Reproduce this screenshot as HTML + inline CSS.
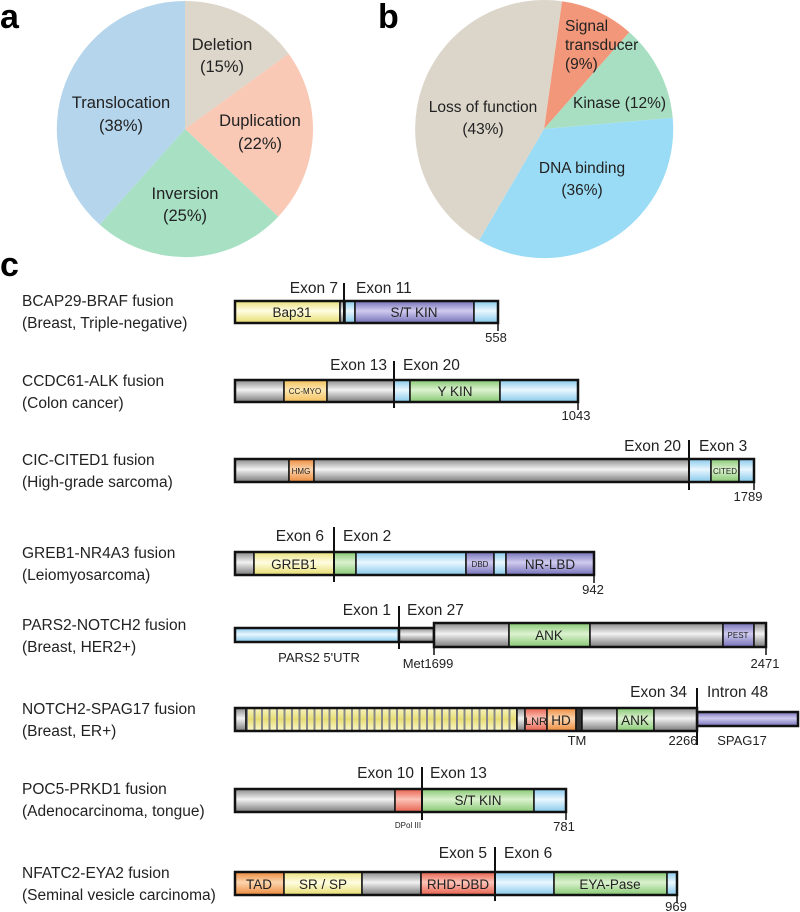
<!DOCTYPE html>
<html><head><meta charset="utf-8"><style>
html,body{margin:0;padding:0;background:#fff}
svg{display:block;font-family:"Liberation Sans",Arial,sans-serif}
</style></head><body>
<svg width="800" height="912" viewBox="0 0 800 912" xmlns="http://www.w3.org/2000/svg">
<defs>
<linearGradient id="gG" x1="0" y1="0" x2="0" y2="1"><stop offset="0" stop-color="#8a8a8a"/><stop offset=".45" stop-color="#f2f2f2"/><stop offset="1" stop-color="#7a7a7a"/></linearGradient>
<linearGradient id="gY" x1="0" y1="0" x2="0" y2="1"><stop offset="0" stop-color="#e9e07a"/><stop offset=".45" stop-color="#fffde2"/><stop offset="1" stop-color="#e6dc6e"/></linearGradient>
<linearGradient id="gB" x1="0" y1="0" x2="0" y2="1"><stop offset="0" stop-color="#86c8ea"/><stop offset=".45" stop-color="#eaf7ff"/><stop offset="1" stop-color="#86c8ea"/></linearGradient>
<linearGradient id="gP" x1="0" y1="0" x2="0" y2="1"><stop offset="0" stop-color="#7570b8"/><stop offset=".45" stop-color="#cfcbef"/><stop offset="1" stop-color="#7570b8"/></linearGradient>
<linearGradient id="gN" x1="0" y1="0" x2="0" y2="1"><stop offset="0" stop-color="#86c872"/><stop offset=".45" stop-color="#dcf2d0"/><stop offset="1" stop-color="#86c872"/></linearGradient>
<linearGradient id="gO" x1="0" y1="0" x2="0" y2="1"><stop offset="0" stop-color="#ec8a3c"/><stop offset=".45" stop-color="#fcd5ae"/><stop offset="1" stop-color="#ec8a3c"/></linearGradient>
<linearGradient id="gR" x1="0" y1="0" x2="0" y2="1"><stop offset="0" stop-color="#e8604e"/><stop offset=".45" stop-color="#fcc4b8"/><stop offset="1" stop-color="#e8604e"/></linearGradient>
<linearGradient id="gC" x1="0" y1="0" x2="0" y2="1"><stop offset="0" stop-color="#f3bf5a"/><stop offset=".45" stop-color="#fde8b4"/><stop offset="1" stop-color="#f3bf5a"/></linearGradient>
<pattern id="stripe" x="246" y="0" width="7.5" height="30" patternUnits="userSpaceOnUse"><rect width="7.5" height="30" fill="url(#gY)"/><rect x="0" width="2" height="30" fill="#888"/></pattern>
</defs>

<text x="0" y="28" font-size="34" font-weight="bold">a</text>
<text x="378" y="28" font-size="34" font-weight="bold">b</text>
<text x="0" y="276" font-size="34" font-weight="bold">c</text>

<g>
<path d="M185,129 L185,1 A128,128 0 0 1 288.6,53.8 Z" fill="#ddd6ca"/>
<path d="M185,129 L288.6,53.8 A128,128 0 0 1 278.3,216.6 Z" fill="#f9c9b6"/>
<path d="M185,129 L278.3,216.6 A128,128 0 0 1 99.7,224.6 Z" fill="#a8e0c4"/>
<path d="M185,129 L99.7,224.6 A128,128 0 0 1 185,1 Z" fill="#b4d5ec"/>
<g font-size="16.5" fill="#222" text-anchor="middle">
<text x="222" y="50">Deletion</text><text x="222" y="72">(15%)</text>
<text x="260" y="126">Duplication</text><text x="260" y="149">(22%)</text>
<text x="185" y="199">Inversion</text><text x="185" y="221">(25%)</text>
<text x="121" y="108">Translocation</text><text x="121" y="131">(38%)</text>
</g>
</g>

<g>
<path d="M544,129 L562,1.3 A129,129 0 0 1 629.3,32.2 Z" fill="#f2977a"/>
<path d="M544,129 L629.3,32.2 A129,129 0 0 1 672.7,117.8 Z" fill="#a8dfc2"/>
<path d="M544,129 L672.7,117.8 A129,129 0 0 1 479,240.4 Z" fill="#9adcf6"/>
<path d="M544,129 L479,240.4 A129,129 0 0 1 562,1.3 Z" fill="#dcd6ca"/>
<g font-size="15.5" fill="#222">
<text x="565" y="31">Signal</text><text x="565" y="50">transducer</text><text x="565" y="69">(9%)</text>
<text x="573" y="108">Kinase (12%)</text>
<text x="483" y="112" text-anchor="middle">Loss of function</text><text x="483" y="134" text-anchor="middle">(43%)</text>
<text x="582" y="173" text-anchor="middle">DNA binding</text><text x="582" y="195" text-anchor="middle">(36%)</text>
</g>
</g>

<g font-size="15.5" fill="#222">
<text x="22" y="306">BCAP29-BRAF fusion</text><text x="22" y="328">(Breast, Triple-negative)</text>
<text x="22" y="386">CCDC61-ALK fusion</text><text x="22" y="408">(Colon cancer)</text>
<text x="22" y="465">CIC-CITED1 fusion</text><text x="22" y="487">(High-grade sarcoma)</text>
<text x="22" y="558">GREB1-NR4A3 fusion</text><text x="22" y="580">(Leiomyosarcoma)</text>
<text x="22" y="630">PARS2-NOTCH2 fusion</text><text x="22" y="652">(Breast, HER2+)</text>
<text x="22" y="714">NOTCH2-SPAG17 fusion</text><text x="22" y="736">(Breast, ER+)</text>
<text x="22" y="794">POC5-PRKD1 fusion</text><text x="22" y="816">(Adenocarcinoma, tongue)</text>
<text x="22" y="878">NFATC2-EYA2 fusion</text><text x="22" y="900">(Seminal vesicle carcinoma)</text>
</g>

<g stroke="#111" stroke-width="1.5">
<rect x="235" y="301" width="105" height="22" fill="url(#gY)"/>
<rect x="340" y="301" width="5" height="22" fill="url(#gG)"/>
<rect x="345" y="301" width="10" height="22" fill="url(#gB)"/>
<rect x="355" y="301" width="119" height="22" fill="url(#gP)"/>
<rect x="474" y="301" width="24" height="22" fill="url(#gB)"/>
<rect x="235" y="301" width="263" height="22" fill="none" stroke-width="2.5"/>
<line x1="344" y1="283" x2="344" y2="323" stroke-width="2"/>
<line x1="498" y1="323" x2="498" y2="331"/>

<rect x="235" y="380" width="49" height="22" fill="url(#gG)"/>
<rect x="284" y="380" width="43" height="22" fill="url(#gC)"/>
<rect x="327" y="380" width="67" height="22" fill="url(#gG)"/>
<rect x="394" y="380" width="16" height="22" fill="url(#gB)"/>
<rect x="410" y="380" width="90" height="22" fill="url(#gN)"/>
<rect x="500" y="380" width="78" height="22" fill="url(#gB)"/>
<rect x="235" y="380" width="343" height="22" fill="none" stroke-width="2.5"/>
<line x1="394" y1="361" x2="394" y2="408" stroke-width="2"/>
<line x1="578" y1="402" x2="578" y2="410"/>

<rect x="235" y="459" width="54" height="23" fill="url(#gG)"/>
<rect x="289" y="459" width="25" height="23" fill="url(#gO)"/>
<rect x="314" y="459" width="375" height="23" fill="url(#gG)"/>
<rect x="689" y="459" width="22" height="23" fill="url(#gB)"/>
<rect x="711" y="459" width="28" height="23" fill="url(#gN)"/>
<rect x="739" y="459" width="15" height="23" fill="url(#gB)"/>
<rect x="235" y="459" width="519" height="23" fill="none" stroke-width="2.5"/>
<line x1="689" y1="440" x2="689" y2="490" stroke-width="2"/>
<line x1="754" y1="482" x2="754" y2="490"/>

<rect x="235" y="552" width="19" height="23" fill="url(#gG)"/>
<rect x="254" y="552" width="80" height="23" fill="url(#gY)"/>
<rect x="334" y="552" width="22" height="23" fill="url(#gN)"/>
<rect x="356" y="552" width="110" height="23" fill="url(#gB)"/>
<rect x="466" y="552" width="28" height="23" fill="url(#gP)"/>
<rect x="494" y="552" width="12" height="23" fill="url(#gB)"/>
<rect x="506" y="552" width="88" height="23" fill="url(#gP)"/>
<rect x="235" y="552" width="359" height="23" fill="none" stroke-width="2.5"/>
<line x1="334" y1="527" x2="334" y2="582" stroke-width="2"/>
<line x1="594" y1="575" x2="594" y2="583"/>

<rect x="235" y="628" width="164" height="14" fill="url(#gB)" stroke-width="2.5"/>
<rect x="399" y="628" width="35" height="14" fill="url(#gG)" stroke-width="2.5"/>
<rect x="434" y="623" width="75" height="24" fill="url(#gG)"/>
<rect x="509" y="623" width="81" height="24" fill="url(#gN)"/>
<rect x="590" y="623" width="133" height="24" fill="url(#gG)"/>
<rect x="723" y="623" width="31" height="24" fill="url(#gP)"/>
<rect x="754" y="623" width="12" height="24" fill="url(#gG)"/>
<rect x="434" y="623" width="332" height="24" fill="none" stroke-width="2.5"/>
<line x1="399" y1="606" x2="399" y2="649" stroke-width="2"/>
<line x1="434" y1="647" x2="434" y2="655"/>
<line x1="766" y1="647" x2="766" y2="655"/>

<rect x="697" y="712" width="101" height="14" fill="url(#gP)" stroke-width="2.5"/>
<rect x="235" y="708" width="11" height="23" fill="url(#gG)"/>
<rect x="246" y="708" width="271" height="23" fill="url(#stripe)"/>
<rect x="517" y="708" width="8" height="23" fill="url(#gG)"/>
<rect x="525" y="708" width="22" height="23" fill="url(#gR)"/>
<rect x="547" y="708" width="29" height="23" fill="url(#gO)"/>
<rect x="576" y="708" width="6" height="23" fill="#333"/>
<rect x="582" y="708" width="35" height="23" fill="url(#gG)"/>
<rect x="617" y="708" width="37" height="23" fill="url(#gN)"/>
<rect x="654" y="708" width="43" height="23" fill="url(#gG)"/>
<rect x="235" y="708" width="462" height="23" fill="none" stroke-width="2.5"/>
<line x1="697" y1="688" x2="697" y2="745" stroke-width="2"/>

<rect x="235" y="789" width="160" height="23" fill="url(#gG)"/>
<rect x="395" y="789" width="27" height="23" fill="url(#gR)"/>
<rect x="422" y="789" width="112" height="23" fill="url(#gN)"/>
<rect x="534" y="789" width="32" height="23" fill="url(#gB)"/>
<rect x="235" y="789" width="331" height="23" fill="none" stroke-width="2.5"/>
<line x1="422" y1="767" x2="422" y2="820" stroke-width="2"/>
<line x1="566" y1="812" x2="566" y2="820"/>

<rect x="235" y="872" width="49" height="23" fill="url(#gO)"/>
<rect x="284" y="872" width="78" height="23" fill="url(#gY)"/>
<rect x="362" y="872" width="59" height="23" fill="url(#gG)"/>
<rect x="421" y="872" width="74" height="23" fill="url(#gR)"/>
<rect x="495" y="872" width="59" height="23" fill="url(#gB)"/>
<rect x="554" y="872" width="113" height="23" fill="url(#gN)"/>
<rect x="667" y="872" width="10" height="23" fill="url(#gB)"/>
<rect x="235" y="872" width="442" height="23" fill="none" stroke-width="2.5"/>
<line x1="495" y1="847" x2="495" y2="901" stroke-width="2"/>
<line x1="677" y1="895" x2="677" y2="903"/>
</g>

<g font-size="15.5" fill="#222">
<text x="338" y="293" text-anchor="end">Exon 7</text><text x="356" y="293">Exon 11</text>
<text x="387" y="370" text-anchor="end">Exon 13</text><text x="403" y="370">Exon 20</text>
<text x="681" y="451" text-anchor="end">Exon 20</text><text x="699" y="451">Exon 3</text>
<text x="324" y="541" text-anchor="end">Exon 6</text><text x="343" y="541">Exon 2</text>
<text x="391" y="615" text-anchor="end">Exon 1</text><text x="407" y="615">Exon 27</text>
<text x="687" y="697" text-anchor="end">Exon 34</text><text x="707" y="697">Intron 48</text>
<text x="414" y="778" text-anchor="end">Exon 10</text><text x="430" y="778">Exon 13</text>
<text x="487" y="858" text-anchor="end">Exon 5</text><text x="504" y="858">Exon 6</text>
</g>
<g font-size="13.5" fill="#222" text-anchor="middle">
<text x="292" y="317">Bap31</text>
<text x="414" y="317">S/T KIN</text>
<text x="455" y="396">Y KIN</text>
<text x="294" y="569">GREB1</text>
<text x="550" y="569">NR-LBD</text>
<text x="549" y="640">ANK</text>
<text x="635" y="725">ANK</text>
<text x="536" y="725" font-size="11">LNR</text>
<text x="561" y="725">HD</text>
<text x="478" y="805">S/T KIN</text>
<text x="259" y="889">TAD</text>
<text x="323" y="889">SR / SP</text>
<text x="458" y="889">RHD-DBD</text>
<text x="610" y="889">EYA-Pase</text>
</g>
<g font-size="8" fill="#222" text-anchor="middle">
<text x="305" y="394">CC-MYO</text>
<text x="301" y="474">HMG</text>
<text x="725" y="474">CITED</text>
<text x="480" y="567">DBD</text>
<text x="738" y="638">PEST</text>
<text x="408" y="828">DPol III</text>
</g>
<g font-size="13" fill="#222" text-anchor="middle">
<text x="496" y="342">558</text>
<text x="576" y="420">1043</text>
<text x="748" y="501">1789</text>
<text x="593" y="594">942</text>
<text x="319" y="662">PARS2 5'UTR</text>
<text x="428" y="668">Met1699</text>
<text x="765" y="668">2471</text>
<text x="577" y="745">TM</text>
<text x="683" y="745">2266</text>
<text x="742" y="745">SPAG17</text>
<text x="564" y="831">781</text>
<text x="676" y="911">969</text>
</g>
</svg>
</body></html>
